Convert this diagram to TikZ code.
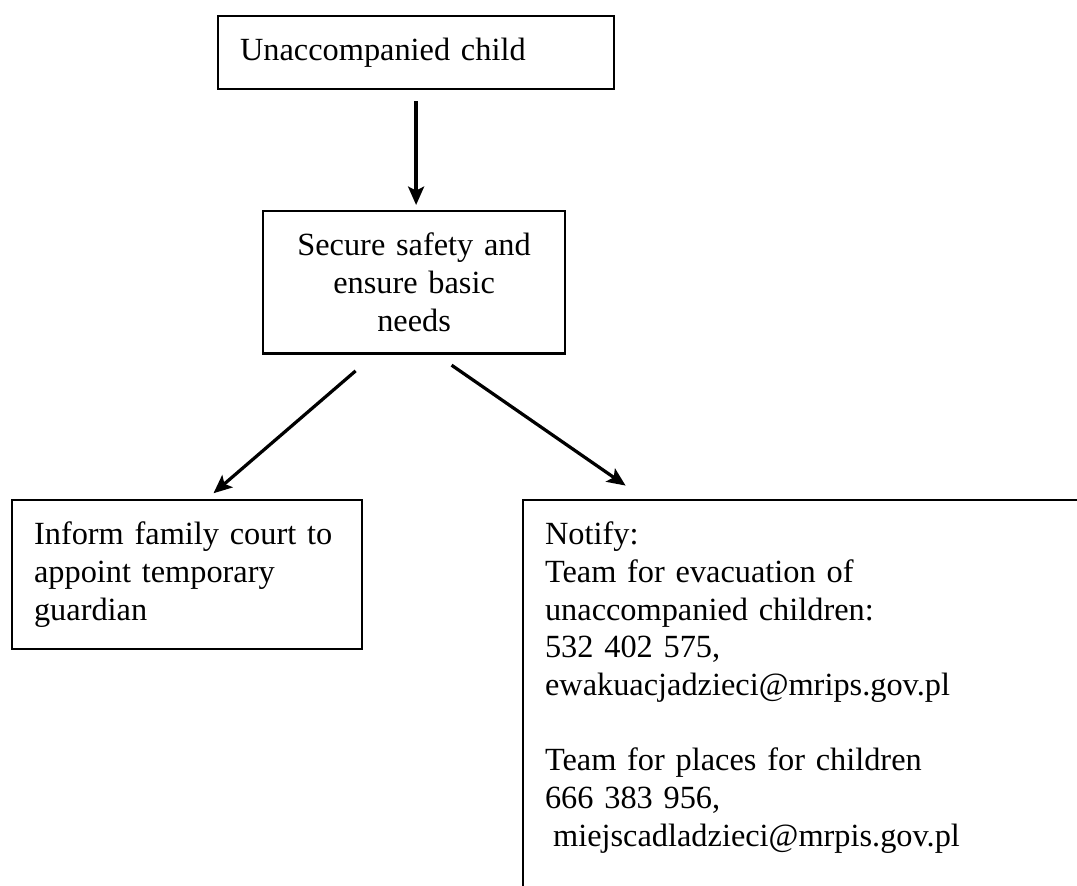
\documentclass[tikz,border=0pt]{standalone}
\usepackage{fontspec}
\setmainfont{Liberation Serif}
\usetikzlibrary{calc,arrows.meta}

\begin{document}
\begin{tikzpicture}[x=0.025cm, y=-0.025cm,
		flowbox/.style={draw, line width=1.5pt, inner sep=0.55cm, align=left, font=\fontsize{23}{26.8}\selectfont},
		flowarrow/.style={line width=2.3pt, -{Stealth[length=4.6mm,width=4mm,inset=1mm]}}]
			%%%%% START %%%%%
			
			\useasboundingbox (0, 0) rectangle (1077, 886);
			\clip (0, 0) rectangle (1077, 886);
			
			\node[flowbox, anchor=north west, text width=8.8cm, minimum height=1.725cm] (child) at (217, 15) {Unaccompanied child};
			
			\node[flowbox, anchor=north west, align=center, text width=6.45cm, minimum height=3.35cm] (safety) at (262, 210) {Secure safety and\\ensure basic\\needs};
			
			\node[flowbox, anchor=north west, text width=7.65cm, minimum height=3.625cm] (court) at (11, 499) {Inform family court to\\appoint temporary\\guardian};
			
			\node[flowbox, anchor=north west, text width=15cm, text depth=10cm] (notify) at (522, 499) {Notify:\\Team for evacuation of\\unaccompanied children:\\532 402 575,\\ewakuacjadzieci@mrips.gov.pl\\[26.8pt]Team for places for children\\666 383 956,\\\hspace*{0.25em}miejscadladzieci@mrpis.gov.pl};
			
			\draw[flowarrow, shorten <=0.27cm, shorten >=0.125cm] (child.south) -- (child.south |- safety.north);
			\draw[flowarrow, shorten <=0.625cm, shorten >=0.22cm] ($(safety.south west)!0.37!(safety.south east)$) -- ($(court.north west)!0.556!(court.north east)$);
			\draw[flowarrow, shorten <=0.465cm, shorten >=0.59cm] ($(safety.south west)!0.573!(safety.south east)$) -- ($(notify.north west)+(123, 0)$);
			
			%%%%% END %%%%%
\end{tikzpicture}
\end{document}
